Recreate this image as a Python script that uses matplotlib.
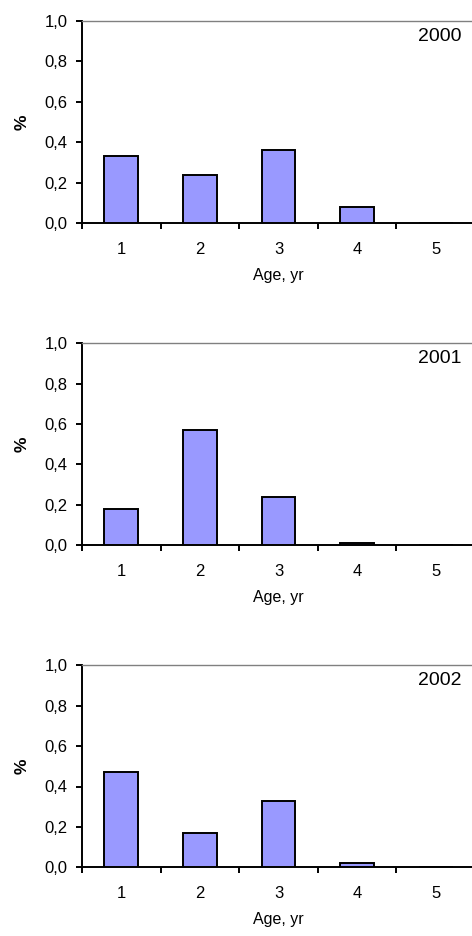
import numpy as np
import matplotlib
matplotlib.use("Agg")
import matplotlib.pyplot as plt

# Données : proportion par classe d'âge, une série par année
ages = [1, 2, 3, 4, 5]
years = ["2000", "2001", "2002"]
share_2000 = [0.33, 0.24, 0.36, 0.08, 0.0]
share_2001 = [0.18, 0.57, 0.24, 0.01, 0.0]
share_2002 = [0.47, 0.17, 0.33, 0.02, 0.0]
y_ticks = [0.0, 0.2, 0.4, 0.6, 0.8, 1.0]
y_ticklabels = ["0,0", "0,2", "0,4", "0,6", "0,8", "1,0"]

plt.rcParams['font.family'] = ['Liberation Sans', 'DejaVu Sans']

W, H = 472, 936
fig = plt.figure(figsize=(W / 100, H / 100), dpi=100)

left = 82 / W
width = 393 / W
height = 202 / H
bottoms_px = [223, 545.3, 867.3]

for share, year, bpx in zip([share_2000, share_2001, share_2002], years, bottoms_px):
    ax = fig.add_axes([left, 1 - bpx / H, width, height])
    x = np.arange(len(ages))
    ax.bar(x, share, width=0.43, color='#9999FF', edgecolor='black', linewidth=1.4, zorder=3)

    ax.set_xlim(-0.5, len(ages) - 0.5)
    ax.set_ylim(0, 1.0)

    ax.set_yticks(y_ticks)
    ax.set_yticklabels(y_ticklabels, fontsize=12)
    ax.set_xticks(x)
    ax.set_xticklabels([str(a) for a in ages], fontsize=12)
    ax.set_xticks(np.arange(len(ages) + 1) - 0.5, minor=True)
    ax.tick_params(axis='x', which='major', length=0, pad=13.5)
    ax.tick_params(axis='x', which='minor', length=4, width=1.4, direction='out')
    ax.tick_params(axis='y', length=4, width=1.4, direction='out', pad=6.5)

    for side in ['left', 'bottom']:
        ax.spines[side].set_linewidth(1.4)
    ax.spines['right'].set_visible(False)
    ax.spines['top'].set_color('#808080')
    ax.spines['top'].set_linewidth(1.0)

    ax.set_ylabel('%', fontsize=12.5, fontweight='bold')
    ax.yaxis.set_label_coords(-0.132, 0.5)
    ax.set_xlabel('Age, yr', fontsize=11.5)
    ax.xaxis.set_label_coords(0.5, -0.222)
    ax.text(0.966, 0.925, year, transform=ax.transAxes, ha='right', va='center', fontsize=14)

plt.savefig("out.png", dpi=100)
